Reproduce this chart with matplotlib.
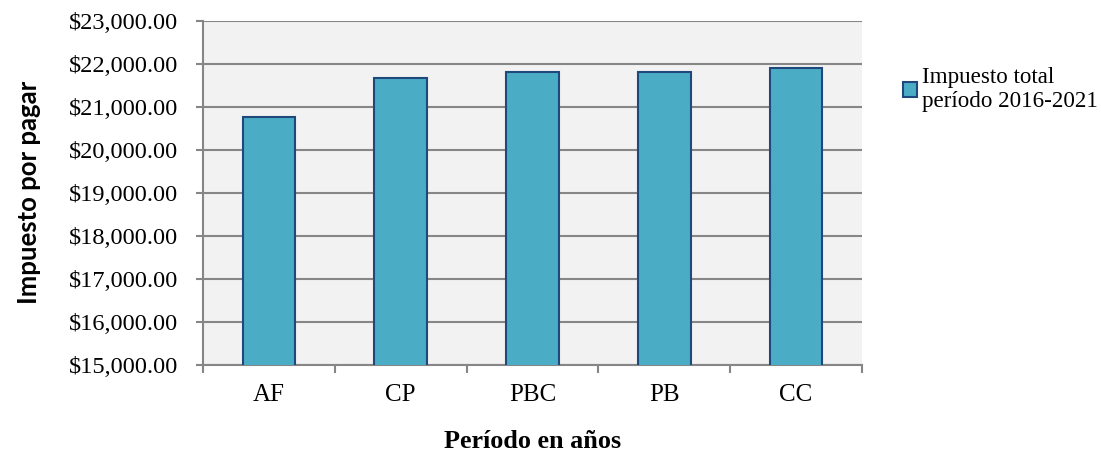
import matplotlib
matplotlib.use("Agg")
import matplotlib.pyplot as plt
from matplotlib.ticker import FuncFormatter, FixedLocator
from matplotlib.patches import Patch

categories = ["AF", "CP", "PBC", "PB", "CC"]
values = [20766, 21672, 21813, 21813, 21906]
series_name = "Impuesto total\nperíodo 2016-2021"
yticks = [15000, 16000, 17000, 18000, 19000, 20000, 21000, 22000, 23000]

serif = ["Liberation Serif", "DejaVu Serif"]
fig = plt.figure(figsize=(11.01, 4.54), dpi=100)
ax = fig.add_axes([203/1101, 1 - 365/454, (862-203)/1101, (365-20.7)/454])
ax.set_facecolor("#F2F2F2")

x = list(range(len(categories)))
ax.bar(x, values, width=0.4, color="#4BACC6", edgecolor="#1F497D", linewidth=1.5, zorder=3)

ax.set_xlim(-0.5, len(categories) - 0.5)
ax.set_ylim(15000, 23000)
ax.set_yticks(yticks)
ax.yaxis.set_major_formatter(FuncFormatter(lambda v, p: "${:,.2f}".format(v)))
ax.grid(axis="y", color="#868686", linewidth=1.5, zorder=1)
ax.set_axisbelow(True)

ax.set_xticks(x)
ax.set_xticklabels(categories, fontfamily=serif, fontsize=18)
ax.xaxis.set_minor_locator(FixedLocator([i - 0.5 for i in range(len(categories) + 1)]))
ax.tick_params(axis="x", which="major", length=0, pad=14)
ax.tick_params(axis="x", which="minor", length=6, width=1.5, color="#868686")
ax.tick_params(axis="y", length=5, width=1.5, color="#868686", pad=13)
for lab in ax.get_yticklabels():
    lab.set_fontfamily(serif)
    lab.set_fontsize(17.6)

for s in ["top", "right"]:
    ax.spines[s].set_visible(False)
for s in ["left", "bottom"]:
    ax.spines[s].set_color("#868686")
    ax.spines[s].set_linewidth(1.5)

ax.set_ylabel("Impuesto por pagar", fontfamily=["Lato", "DejaVu Sans"], fontweight="bold", fontsize=18.5, labelpad=20)
ax.set_xlabel("Período en años", fontfamily=serif, fontweight="bold", fontsize=18.8, labelpad=17)

handle = Patch(facecolor="#4BACC6", edgecolor="#1F497D", linewidth=1.5)
leg = fig.legend([handle], [series_name], loc="upper left", bbox_to_anchor=(894/1101, 1 - 58/454),
                 frameon=False, prop={"family": serif, "size": 16.6},
                 handlelength=0.6, handleheight=0.6, handletextpad=0.2, borderaxespad=0,
                 labelspacing=0.3)

fig.savefig("out.png", dpi=100)
